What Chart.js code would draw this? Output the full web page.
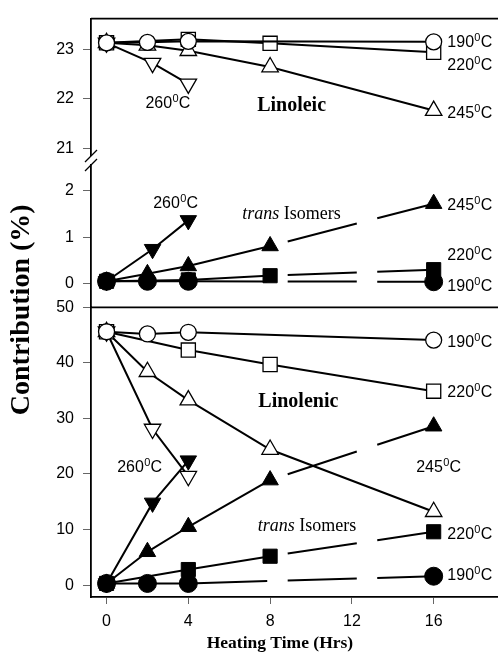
<!DOCTYPE html>
<html><head><meta charset="utf-8">
<script src="https://cdn.jsdelivr.net/npm/chart.js@4"></script>
<style>
html,body{margin:0;padding:0;background:#fff;overflow:hidden;width:498px;height:652px}
#wrap{position:relative;width:520px;height:652px}
</style>
</head><body><div id="wrap"><canvas id="c" width="520" height="652"></canvas></div>
<script>
// ---------- data ----------
const xTicks = [0, 4, 8, 12, 16];
const yTopTicks = [21, 22, 23];
const yMidTicks = [0, 1, 2];
const yBotTicks = [0, 10, 20, 30, 40, 50];

// Linoleic (top panel)
const tLino190 = [0, 2, 4, 16];        const vLino190 = [23.13, 23.14, 23.16, 23.15];
const tLino220 = [0, 4, 8, 16];        const vLino220 = [23.13, 23.20, 23.12, 22.94];
const tLino245 = [0, 2, 4, 8, 16];     const vLino245 = [23.13, 23.08, 22.97, 22.64, 21.76];
const tLino260 = [0, 2.25, 4];         const vLino260 = [23.13, 22.72, 22.30];
// trans isomers of linoleic (middle panel)
const tLtr190 = [0, 2, 4, 16];         const vLtr190 = [0.05, 0.05, 0.05, 0.04];
const tLtr220 = [0, 4, 8, 16];         const vLtr220 = [0.05, 0.08, 0.17, 0.30];
const tLtr245 = [0, 2, 4, 8, 16];      const vLtr245 = [0.05, 0.21, 0.38, 0.81, 1.72];
const tLtr260 = [0, 2.25, 4];          const vLtr260 = [0.05, 0.74, 1.36];
// Linolenic (bottom panel)
const tLnn190 = [0, 2, 4, 16];         const vLnn190 = [45.6, 45.2, 45.5, 44.1];
const tLnn220 = [0, 4, 8, 16];         const vLnn220 = [45.6, 42.3, 39.7, 34.9];
const tLnn245 = [0, 2, 4, 8, 16];      const vLnn245 = [45.6, 38.4, 33.3, 24.4, 13.2];
const tLnn260 = [0, 2.25, 4];          const vLnn260 = [45.6, 28.1, 19.6];
// trans isomers of linolenic (bottom panel)
const tNtr190 = [0, 2, 4, 16];         const vNtr190 = [0.3, 0.3, 0.3, 1.6];
const tNtr220 = [0, 4, 8, 16];         const vNtr220 = [0.3, 2.8, 5.2, 9.6];
const tNtr245 = [0, 2, 4, 8, 16];      const vNtr245 = [0.3, 6.0, 10.5, 18.9, 28.6];
const tNtr260 = [0, 2.25, 4];          const vNtr260 = [0.3, 14.8, 22.4];

// ---------- styling ----------
const SANS = "'Liberation Sans', Arial, sans-serif";
const SERIF = "'Liberation Serif', 'Times New Roman', serif";
const dashGaps = [[7.86, 8.86], [12.24, 13.24]]; // x ranges (hours) where dashed trans lines break

function gapDash(ctx) {
  const xs = ctx.chart.scales.x; const p0 = ctx.p0, p1 = ctx.p1;
  const dx = p1.x - p0.x; if (dx <= 0) return [];
  const f = Math.hypot(dx, p1.y - p0.y) / dx;
  const arr = []; let cur = p0.x;
  for (const [a, b] of dashGaps) {
    let ga = xs.getPixelForValue(a), gb = xs.getPixelForValue(b);
    if (gb <= p0.x || ga >= p1.x) continue;
    ga = Math.max(ga, p0.x); gb = Math.min(gb, p1.x);
    arr.push((ga - cur) * f, (gb - ga) * f); cur = gb;
  }
  if (!arr.length) return [];
  arr.push((p1.x - cur) * f + 1000, 0);
  return arr;
}

const R = {circle: 8, rect: 10, triangle: 9.5};
function ds(label, t, v, axis, style, filled, rot) {
  return {
    label, data: t.map((x, i) => ({x, y: v[i]})), yAxisID: axis,
    borderColor: '#000', borderWidth: 2, tension: 0, fill: false,
    pointStyle: style, pointRotation: rot || 0,
    pointRadius: filled && style === 'circle' ? 9 : R[style],
    pointBackgroundColor: filled ? '#000' : '#fff', pointBorderColor: '#000',
    pointBorderWidth: filled ? 1 : 1.3,
    segment: filled ? {borderDash: gapDash} : undefined,
    clip: false
  };
}

const datasets = [
  ds('Linoleic 190', tLino190, vLino190, 'yTop', 'circle', false),
  ds('Linoleic 220', tLino220, vLino220, 'yTop', 'rect', false),
  ds('Linoleic 245', tLino245, vLino245, 'yTop', 'triangle', false),
  ds('Linoleic 260', tLino260, vLino260, 'yTop', 'triangle', false, 180),
  ds('trans 190', tLtr190, vLtr190, 'yMid', 'circle', true),
  ds('trans 220', tLtr220, vLtr220, 'yMid', 'rect', true),
  ds('trans 245', tLtr245, vLtr245, 'yMid', 'triangle', true),
  ds('trans 260', tLtr260, vLtr260, 'yMid', 'triangle', true, 180),
  ds('Linolenic 190', tLnn190, vLnn190, 'yBot', 'circle', false),
  ds('Linolenic 220', tLnn220, vLnn220, 'yBot', 'rect', false),
  ds('Linolenic 245', tLnn245, vLnn245, 'yBot', 'triangle', false),
  ds('Linolenic 260', tLnn260, vLnn260, 'yBot', 'triangle', false, 180),
  ds('trans3 190', tNtr190, vNtr190, 'yBot', 'circle', true),
  ds('trans3 220', tNtr220, vNtr220, 'yBot', 'rect', true),
  ds('trans3 245', tNtr245, vNtr245, 'yBot', 'triangle', true),
  ds('trans3 260', tNtr260, vNtr260, 'yBot', 'triangle', true, 180)
];

// text annotations (data coordinates of the axis they belong to)
const tempLabels = [
  {axis: 'yTop', x: 16.67, y: 23.16, t: '190', align: 'left'},
  {axis: 'yTop', x: 16.67, y: 22.70, t: '220', align: 'left'},
  {axis: 'yTop', x: 16.67, y: 21.72, t: '245', align: 'left'},
  {axis: 'yTop', x: 3.0,   y: 21.92, t: '260', align: 'center'},
  {axis: 'yMid', x: 3.38,  y: 1.745, t: '260', align: 'center'},
  {axis: 'yMid', x: 16.67, y: 1.70,  t: '245', align: 'left'},
  {axis: 'yMid', x: 16.67, y: 0.64,  t: '220', align: 'left'},
  {axis: 'yMid', x: 16.67, y: -0.04, t: '190', align: 'left'},
  {axis: 'yBot', x: 16.67, y: 43.95, t: '190', align: 'left'},
  {axis: 'yBot', x: 16.67, y: 34.88, t: '220', align: 'left'},
  {axis: 'yBot', x: 1.62,  y: 21.35, t: '260', align: 'center'},
  {axis: 'yBot', x: 16.24, y: 21.35, t: '245', align: 'center'},
  {axis: 'yBot', x: 16.67, y: 9.43,  t: '220', align: 'left'},
  {axis: 'yBot', x: 16.67, y: 1.96,  t: '190', align: 'left'}
];
const nameLabels = [
  {axis: 'yTop', x: 9.05, y: 21.86, t: 'Linoleic'},
  {axis: 'yBot', x: 9.38, y: 32.9,  t: 'Linolenic'}
];
const transLabels = [
  {axis: 'yMid', x: 9.05, y: 1.49},
  {axis: 'yBot', x: 9.81, y: 10.68}
];

function fixedTicks(vals) { return s => { s.ticks = vals.map(v => ({value: v})); }; }
function yAxis(min, max, weight, ticks) {
  return {
    type: 'linear', position: 'left', stack: 'panels', stackWeight: weight, min, max,
    afterBuildTicks: fixedTicks(ticks),
    afterFit: s => { s.width = 91; },
    grid: {drawOnChartArea: false, drawTicks: true, tickLength: 8, color: '#666', lineWidth: 1},
    border: {display: true, color: '#000', width: 1.8},
    ticks: {color: '#000', font: {family: SANS, size: 16}, padding: 9}
  };
}

const decor = {
  id: 'decor',
  afterDraw(chart) {
    const {ctx, chartArea: a, scales} = chart;
    ctx.save();
    ctx.strokeStyle = '#000'; ctx.lineWidth = 1.8;
    ctx.beginPath();
    ctx.moveTo(a.left, a.top); ctx.lineTo(a.right, a.top);
    const dv = scales.yBot.top;
    ctx.moveTo(a.left, dv); ctx.lineTo(a.right, dv);
    ctx.stroke();
    // axis break
    const b = scales.yTop.bottom;
    ctx.fillStyle = '#fff'; ctx.fillRect(a.left - 3, b - 4, 6, 8);
    ctx.lineWidth = 1.3; ctx.beginPath();
    [-4, 5].forEach(o => { ctx.moveTo(a.left - 6, b + o + 6); ctx.lineTo(a.left + 6, b + o - 6); });
    ctx.stroke();

    ctx.fillStyle = '#000';
    // temperature labels
    tempLabels.forEach(l => {
      const x = scales.x.getPixelForValue(l.x), y = scales[l.axis].getPixelForValue(l.y);
      const big = '16px ' + SANS, small = '11px ' + SANS;
      ctx.font = big; const w1 = ctx.measureText(l.t).width; const w3 = ctx.measureText('C').width;
      ctx.font = small; const w2 = ctx.measureText('0').width;
      const tot = w1 + w2 + 0.5 + w3;
      let x0 = l.align === 'center' ? x - tot / 2 : x;
      const base = y + 5.8;
      ctx.textAlign = 'left'; ctx.textBaseline = 'alphabetic';
      ctx.font = big; ctx.fillText(l.t, x0, base);
      ctx.font = small; ctx.fillText('0', x0 + w1 + 0.3, base - 6);
      ctx.font = big; ctx.fillText('C', x0 + w1 + w2 + 0.5, base);
    });
    // names
    nameLabels.forEach(l => {
      ctx.font = 'bold 20px ' + SERIF; ctx.textAlign = 'center'; ctx.textBaseline = 'middle';
      ctx.fillText(l.t, scales.x.getPixelForValue(l.x), scales[l.axis].getPixelForValue(l.y));
    });
    transLabels.forEach(l => {
      const x = scales.x.getPixelForValue(l.x), y = scales[l.axis].getPixelForValue(l.y);
      const it = 'italic 18px ' + SERIF, rg = '18px ' + SERIF;
      ctx.font = it; const w1 = ctx.measureText('trans').width;
      ctx.font = rg; const w2 = ctx.measureText(' Isomers').width;
      const x0 = x - (w1 + w2) / 2;
      ctx.textAlign = 'left'; ctx.textBaseline = 'middle';
      ctx.font = it; ctx.fillText('trans', x0, y);
      ctx.font = rg; ctx.fillText(' Isomers', x0 + w1, y);
    });
    // axis titles
    ctx.font = 'bold 17.5px ' + SERIF; ctx.textAlign = 'center'; ctx.textBaseline = 'middle';
    ctx.fillText('Heating Time (Hrs)', scales.x.getPixelForValue(8.48), a.bottom + 46);
    ctx.translate(22, (a.top + a.bottom) / 2 + 2);
    ctx.rotate(-Math.PI / 2);
    ctx.font = 'bold 28px ' + SERIF;
    ctx.fillText('Contribution (%)', 0, 0);
    ctx.restore();
  }
};

new Chart(document.getElementById('c'), {
  type: 'line',
  data: {datasets},
  options: {
    responsive: false, animation: false,
    layout: {padding: {top: 12, left: 0, right: 0, bottom: 0}},
    plugins: {legend: {display: false}, tooltip: {enabled: false}},
    scales: {
      x: {
        type: 'linear', min: -0.76, max: 19.67,
        afterBuildTicks: fixedTicks(xTicks),
        afterFit: s => { s.height = 55; },
        grid: {drawOnChartArea: false, drawTicks: true, tickLength: 7, color: '#666'},
        border: {display: true, color: '#000', width: 1.8},
        ticks: {color: '#000', font: {family: SANS, size: 16}, padding: 8, maxRotation: 0, autoSkip: false}
      },
      yBot: yAxis(-2.14, 50, 293, yBotTicks),
      yMid: yAxis(-0.51, 2.66, 149, yMidTicks),
      yTop: yAxis(20.76, 23.62, 143, yTopTicks)
    }
  },
  plugins: [decor]
});
</script>
</body></html>
